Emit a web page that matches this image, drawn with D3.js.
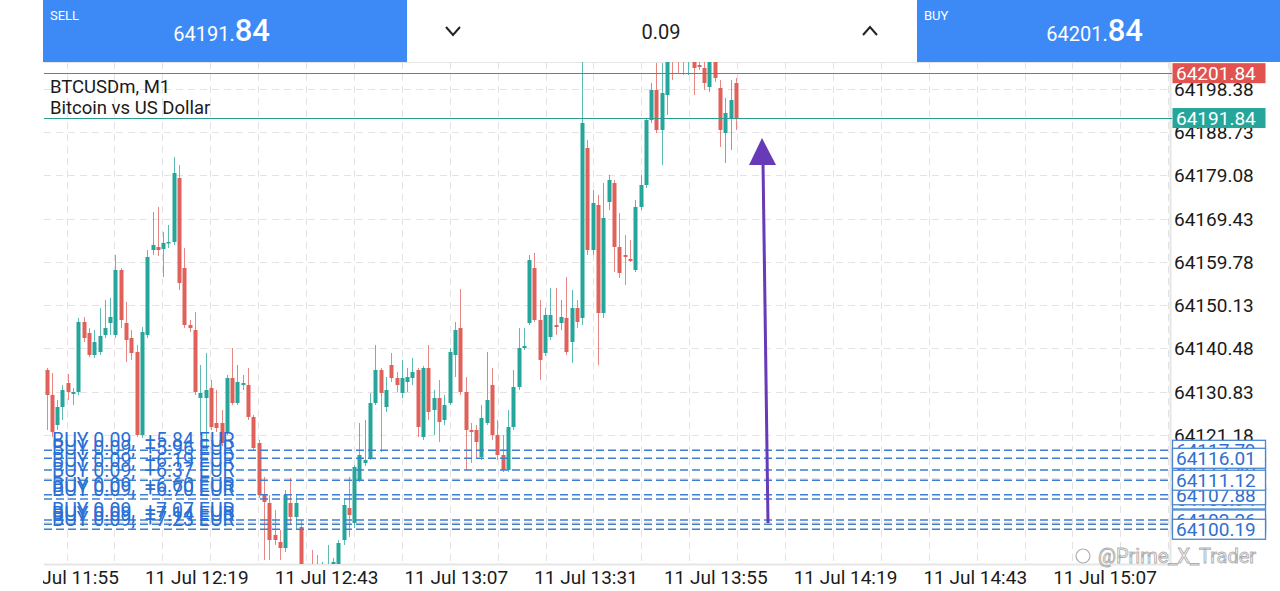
<!DOCTYPE html>
<html><head><meta charset="utf-8">
<script src="https://cdn.jsdelivr.net/npm/d3@7"></script>
<style>body{margin:0;background:#fff;overflow:hidden}svg{display:block;font-family:Roboto,"Noto Sans",sans-serif}</style>
</head><body><svg id="c" width="1280" height="591"></svg>
<script>
// ---------- data ----------
const opens=[64135.69,64130.12,64123.43,64127.44,64132.79,64130.34,64130.79,64146.39,64143.93,64139.03,64139.70,64143.49,64146.16,64143.49,64157.97,64146.16,64142.82,64139.70,64121.20,64143.49,64162.43,64163.10,64162.66,64164.00,64164.22,64178.48,64158.42,64145.72,64144.60,64129.45,64129.45,64131.68,64123.88,64123.88,64121.87,64133.90,64128.33,64132.35,64132.35,64125.22,64119.42,64107.82,64106.05,64098.92,64097.36,64096.02,64106.05,64102.93,64100.70,64090.00,64091.12,64090.67,64086.66,64088.89,64091.12,64091.56,64097.80,64104.93,64101.60,64111.17,64114.96,64116.08,64128.33,64135.69,64127.44,64136.80,64133.90,64130.56,64133.01,64133.90,64135.69,64120.75,64136.13,64126.77,64129.45,64124.55,64128.33,64139.03,64145.05,64130.79,64122.32,64122.32,64116.30,64123.88,64132.35,64121.20,64116.74,64113.40,64122.98,64131.90,64140.59,64146.16,64158.42,64146.83,64139.48,64143.04,64145.72,64146.16,64147.28,64141.93,64149.50,64147.28,64185.17,64162.43,64172.46,64148.39,64173.13,64177.36,64163.10,64161.32,64160.43,64157.97,64172.02,64176.92,64191.41,64198.09,64189.18,64196.98,64206.56,64207.01,64206.56,64205.22,64204.33,64203.66,64202.99,64198.76,64204.33,64198.54,64188.51,64191.85,64199.65];
const highs=[64136.13,64135.02,64129.00,64132.35,64134.80,64131.68,64147.28,64147.50,64145.05,64144.60,64149.50,64151.29,64151.73,64161.32,64158.42,64150.84,64144.60,64141.26,64145.27,64162.43,64170.90,64172.02,64166.45,64168.00,64183.16,64181.38,64162.88,64146.83,64148.61,64136.80,64139.48,64133.46,64131.23,64126.77,64134.57,64140.59,64136.80,64134.57,64136.13,64125.66,64120.09,64111.84,64107.82,64104.49,64100.04,64108.94,64111.62,64107.82,64102.26,64092.01,64095.57,64094.46,64092.90,64096.69,64093.79,64097.80,64107.16,64111.84,64114.52,64123.88,64124.55,64130.56,64141.26,64136.13,64134.13,64139.48,64135.24,64137.92,64136.13,64138.36,64136.13,64136.58,64141.26,64131.23,64133.46,64130.12,64140.59,64146.39,64153.74,64134.13,64123.88,64123.43,64127.89,64139.70,64136.13,64124.55,64121.20,64126.77,64135.69,64145.05,64145.05,64161.32,64161.77,64151.29,64149.50,64153.96,64153.96,64151.29,64156.42,64153.52,64151.29,64207.01,64186.95,64175.80,64174.69,64177.36,64179.15,64178.03,64170.68,64165.78,64164.66,64173.58,64179.15,64191.85,64199.65,64204.11,64204.11,64207.01,64208.12,64208.12,64208.12,64208.12,64205.89,64204.78,64204.78,64205.22,64205.22,64200.32,64196.31,64200.32,64200.77];
const lows=[64122.32,64120.75,64122.32,64124.55,64129.00,64127.89,64130.12,64141.93,64138.59,64138.36,64139.03,64142.82,64143.49,64142.82,64145.05,64137.47,64137.92,64120.75,64120.53,64142.82,64161.32,64161.10,64156.42,64162.88,64163.55,64153.52,64145.05,64144.16,64130.12,64121.20,64117.86,64122.32,64121.87,64118.75,64121.20,64127.89,64127.89,64131.23,64124.55,64117.86,64107.16,64093.35,64093.35,64096.69,64093.35,64095.13,64101.15,64100.04,64086.66,64085.54,64085.54,64086.66,64085.54,64087.77,64090.00,64091.12,64096.69,64098.47,64100.48,64110.72,64114.29,64115.63,64127.89,64117.41,64126.33,64133.01,64130.79,64129.45,64130.79,64132.35,64120.75,64120.09,64124.55,64121.20,64119.64,64123.43,64127.89,64134.13,64130.12,64113.40,64114.96,64116.08,64115.63,64123.43,64120.09,64115.63,64112.96,64112.96,64122.32,64131.23,64140.15,64145.72,64146.39,64133.46,64138.81,64142.37,64143.49,64144.60,64139.03,64137.25,64145.05,64145.72,64161.32,64161.32,64136.80,64147.28,64171.35,64157.53,64156.19,64154.63,64159.76,64157.53,64171.35,64176.25,64190.74,64188.51,64181.38,64192.52,64200.32,64201.88,64201.43,64201.43,64196.98,64202.55,64198.09,64197.65,64199.88,64185.39,64181.82,64184.72,64189.18];
const closes=[64130.12,64121.87,64127.44,64131.23,64130.79,64130.79,64146.39,64142.82,64139.03,64141.93,64143.27,64145.05,64147.50,64157.97,64146.83,64142.37,64139.48,64121.20,64144.16,64160.87,64163.55,64162.43,64164.00,64164.22,64179.59,64155.08,64145.72,64145.05,64130.79,64130.56,64131.23,64122.98,64122.76,64119.42,64133.90,64128.33,64133.01,64132.79,64125.22,64118.30,64107.82,64106.27,64097.80,64097.80,64096.02,64107.82,64102.93,64106.05,64088.89,64086.66,64087.77,64088.89,64090.00,64091.56,64092.90,64097.13,64105.60,64103.37,64114.07,64116.74,64115.63,64128.33,64135.69,64130.56,64131.23,64133.90,64132.35,64133.90,64134.13,64135.24,64122.98,64136.13,64126.33,64129.45,64124.10,64127.89,64139.70,64144.60,64130.79,64122.32,64121.87,64119.64,64124.99,64129.00,64121.20,64116.74,64113.40,64122.98,64131.90,64140.59,64141.04,64160.20,64146.83,64137.92,64147.95,64147.95,64145.27,64147.50,64139.70,64149.50,64146.39,64190.74,64162.43,64172.91,64148.39,64169.57,64178.03,64163.10,64157.31,64160.87,64159.98,64172.02,64176.92,64191.41,64198.09,64189.18,64197.42,64205.22,64204.78,64205.22,64204.78,64207.01,64202.99,64203.22,64199.65,64204.33,64200.77,64189.18,64192.97,64195.86,64191.84];

const yTickValues=[64198.38,64188.73,64179.08,64169.43,64159.78,64150.13,64140.48,64130.83,64121.18,64111.53,64101.88];
const timeTickLabels=["11 Jul 11:55","11 Jul 12:19","11 Jul 12:43","11 Jul 13:07","11 Jul 13:31","11 Jul 13:55","11 Jul 14:19","11 Jul 14:43","11 Jul 15:07"];
const orderPrices=[64117.79,64116.01,64113.40,64111.12,64107.88,64106.94,64102.26,64101.30,64100.19];
const orderProfits=[5.84,5.96,6.19,6.37,6.60,6.70,7.07,7.14,7.23];
const orderBoxDrawOrder=[64106.94,64107.88,64113.40,64117.79,64116.01,64111.12,64101.30,64102.26,64100.19];
const bidPrice=64191.84, askPrice=64201.84;
const symbolName="BTCUSDm, M1", symbolDesc="Bitcoin vs US Dollar";
const lotText="0.09";

// ---------- setup ----------
const svg=d3.select("#c");
const plot={left:44,right:1170,top:62,bottom:564};
const y=d3.scaleLinear().domain([64092.45,64204.33]).range([plot.bottom,plot.top]);
const xi=d3.scaleLinear().domain([0,opens.length-1]).range([46.5,736]);
const parseT=d3.timeParse("%d %b %H:%M");
const tTicks=timeTickLabels.map(s=>parseT(s));
const xt=d3.scaleTime().domain([tTicks[0],tTicks[tTicks.length-1]]).range([67,1105]);

const GREEN="#26a69a",RED="#e0605a",BLUE="#3d8af7",ORDER="#3f7fd0";

const defs=svg.append("defs");
defs.append("clipPath").attr("id","pc").append("rect").attr("x",plot.left).attr("y",plot.top).attr("width",plot.right-plot.left).attr("height",plot.bottom-plot.top);
defs.append("clipPath").attr("id","xc").append("rect").attr("x",43).attr("y",560).attr("width",1200).attr("height",31);

// grid
const g=svg.append("g");
g.selectAll(".hg").data(yTickValues).join("line")
  .attr("x1",plot.left).attr("x2",plot.right).attr("y1",d=>Math.round(y(d))+0.5).attr("y2",d=>Math.round(y(d))+0.5)
  .attr("stroke","#e3e3e3").attr("stroke-dasharray","7,5");
const vx=d3.range(66.5,plot.right,47.9);
g.selectAll(".vg").data(vx).join("line")
  .attr("x1",d=>Math.round(d)+0.5).attr("x2",d=>Math.round(d)+0.5).attr("y1",plot.top).attr("y2",plot.bottom)
  .attr("stroke","#e3e3e3").attr("stroke-dasharray","7,5");
svg.append("line").attr("x1",plot.left).attr("x2",plot.right).attr("y1",plot.bottom+0.5).attr("y2",plot.bottom+0.5).attr("stroke","#e6e6e6").attr("stroke-width",2);
svg.append("line").attr("x1",plot.right+0.5).attr("x2",plot.right+0.5).attr("y1",plot.top).attr("y2",plot.bottom).attr("stroke","#e6e6e6").attr("stroke-width",2);
svg.append("line").attr("x1",plot.left).attr("x2",plot.right).attr("y1",plot.top+0.5).attr("y2",plot.top+0.5).attr("stroke","#e6e6e6");

// candles
const cd=opens.map((o,i)=>({i,o,h:highs[i],l:lows[i],c:closes[i]}));
const cg=svg.append("g").attr("clip-path","url(#pc)");
cg.selectAll(".w").data(cd).join("line")
  .attr("x1",d=>Math.round(xi(d.i))+0.5).attr("x2",d=>Math.round(xi(d.i))+0.5)
  .attr("y1",d=>y(d.h)).attr("y2",d=>y(d.l))
  .attr("stroke",d=>d.c>=d.o?GREEN:RED).attr("stroke-width",1).attr("opacity",0.75);
cg.selectAll(".b").data(cd).join("rect")
  .attr("x",d=>Math.round(xi(d.i))-1.5).attr("width",4)
  .attr("y",d=>y(Math.max(d.o,d.c))).attr("height",d=>Math.max(1.5,Math.abs(y(d.o)-y(d.c))))
  .attr("fill",d=>d.c>=d.o?GREEN:RED);

// bid / ask lines
svg.append("line").attr("x1",plot.left).attr("x2",1172).attr("y1",Math.round(y(askPrice))+0.5).attr("y2",Math.round(y(askPrice))+0.5).attr("stroke","#d9534f").attr("stroke-width",1.2);
svg.append("line").attr("x1",plot.left).attr("x2",1172).attr("y1",Math.round(y(bidPrice))+0.5).attr("y2",Math.round(y(bidPrice))+0.5).attr("stroke","#2a9d8f").attr("stroke-width",1.2);

// order lines
const og=svg.append("g");
og.selectAll("line").data(orderPrices).join("line")
  .attr("x1",plot.left).attr("x2",1172).attr("y1",d=>y(d)).attr("y2",d=>y(d))
  .attr("stroke",ORDER).attr("stroke-width",1.4).attr("stroke-dasharray","8,4");
og.selectAll("text").data(orderPrices).join("text")
  .attr("x",52).attr("y",d=>y(d)-3)
  .attr("fill","#2a6fd6").attr("font-size",19.5).style("white-space","pre")
  .text((d,i)=>`BUY 0.09,  +${orderProfits[i].toFixed(2)} EUR`);

// title
svg.append("text").attr("x",50).attr("y",93).attr("font-size",18.5).attr("fill","#1a1a1a").text(symbolName);
svg.append("text").attr("x",50).attr("y",114).attr("font-size",18.5).attr("fill","#1a1a1a").text(symbolDesc);

// y axis labels
svg.append("g").selectAll("text").data(yTickValues).join("text")
  .attr("x",1174).attr("y",d=>y(d)+7).attr("font-size",19).attr("fill","#1a1a1a").text(d=>d.toFixed(2));

// price boxes
function priceBox(v,fill,stroke,txt){
  const cy=y(v);
  const gg=svg.append("g");
  gg.append("rect").attr("x",1172.5).attr("y",cy-10).attr("width",93).attr("height",20).attr("fill",fill).attr("stroke",stroke).attr("stroke-width",stroke==="none"?0:1.3);
  gg.append("text").attr("x",1176).attr("y",cy+7).attr("font-size",19).attr("fill",txt).text(v.toFixed(2));
}
orderBoxDrawOrder.forEach(v=>priceBox(v,"#fff","#4a86d0","#2f6fcf"));
priceBox(askPrice,"#e0534f","none","#fff");
priceBox(bidPrice,"#26a69a","none","#fff");

// x axis labels
svg.append("g").attr("clip-path","url(#xc)").selectAll("text").data(tTicks).join("text")
  .attr("x",d=>xt(d)).attr("y",584).attr("text-anchor","middle").attr("font-size",19).attr("fill","#1a1a1a")
  .text((d,i)=>timeTickLabels[i]);

// top bar
svg.append("rect").attr("x",43).attr("y",0).attr("width",364).attr("height",62).attr("fill",BLUE);
svg.append("rect").attr("x",917).attr("y",0).attr("width",363).attr("height",62).attr("fill",BLUE);
function priceHead(x,label,v){
  svg.append("text").attr("x",x+7).attr("y",20).attr("font-size",13).attr("fill","#fff").text(label);
  const s=v.toFixed(2);
  return {main:s.slice(0,-2),big:s.slice(-2)};
}
const sp=priceHead(43,"SELL",bidPrice);
const sellT=svg.append("text").attr("x",270).attr("y",41).attr("text-anchor","end").attr("fill","#fff");
sellT.append("tspan").attr("font-size",20).text(sp.main);
sellT.append("tspan").attr("font-size",31).attr("font-weight",500).text(sp.big);
const bp=priceHead(917,"BUY",askPrice);
const buyT=svg.append("text").attr("x",1143).attr("y",41).attr("text-anchor","end").attr("fill","#fff");
buyT.append("tspan").attr("font-size",20).text(bp.main);
buyT.append("tspan").attr("font-size",31).attr("font-weight",500).text(bp.big);
svg.append("text").attr("x",661).attr("y",39).attr("text-anchor","middle").attr("font-size",20).attr("fill","#222").text(lotText);
svg.append("path").attr("d","M446,27 L453,35 L460,27").attr("fill","none").attr("stroke","#222").attr("stroke-width",2);
svg.append("path").attr("d","M863,35 L870,27 L877,35").attr("fill","none").attr("stroke","#222").attr("stroke-width",2);

// annotation arrow
svg.append("line").attr("x1",768).attr("y1",523).attr("x2",763).attr("y2",162).attr("stroke","#673ab7").attr("stroke-width",3);
svg.append("path").attr("d","M762,138 L776,165 L749,165 Z").attr("fill","#673ab7");

// watermark
const wm=svg.append("g").attr("opacity",0.8);
wm.append("text").attr("x",1098).attr("y",563).attr("font-size",20).attr("fill","#fff").attr("stroke","#9a9a9a").attr("stroke-width",0.9).text("@Prime_X_Trader");
wm.append("circle").attr("cx",1083).attr("cy",556).attr("r",7).attr("fill","none").attr("stroke","#9a9a9a").attr("stroke-width",1.2);
</script></body></html>
